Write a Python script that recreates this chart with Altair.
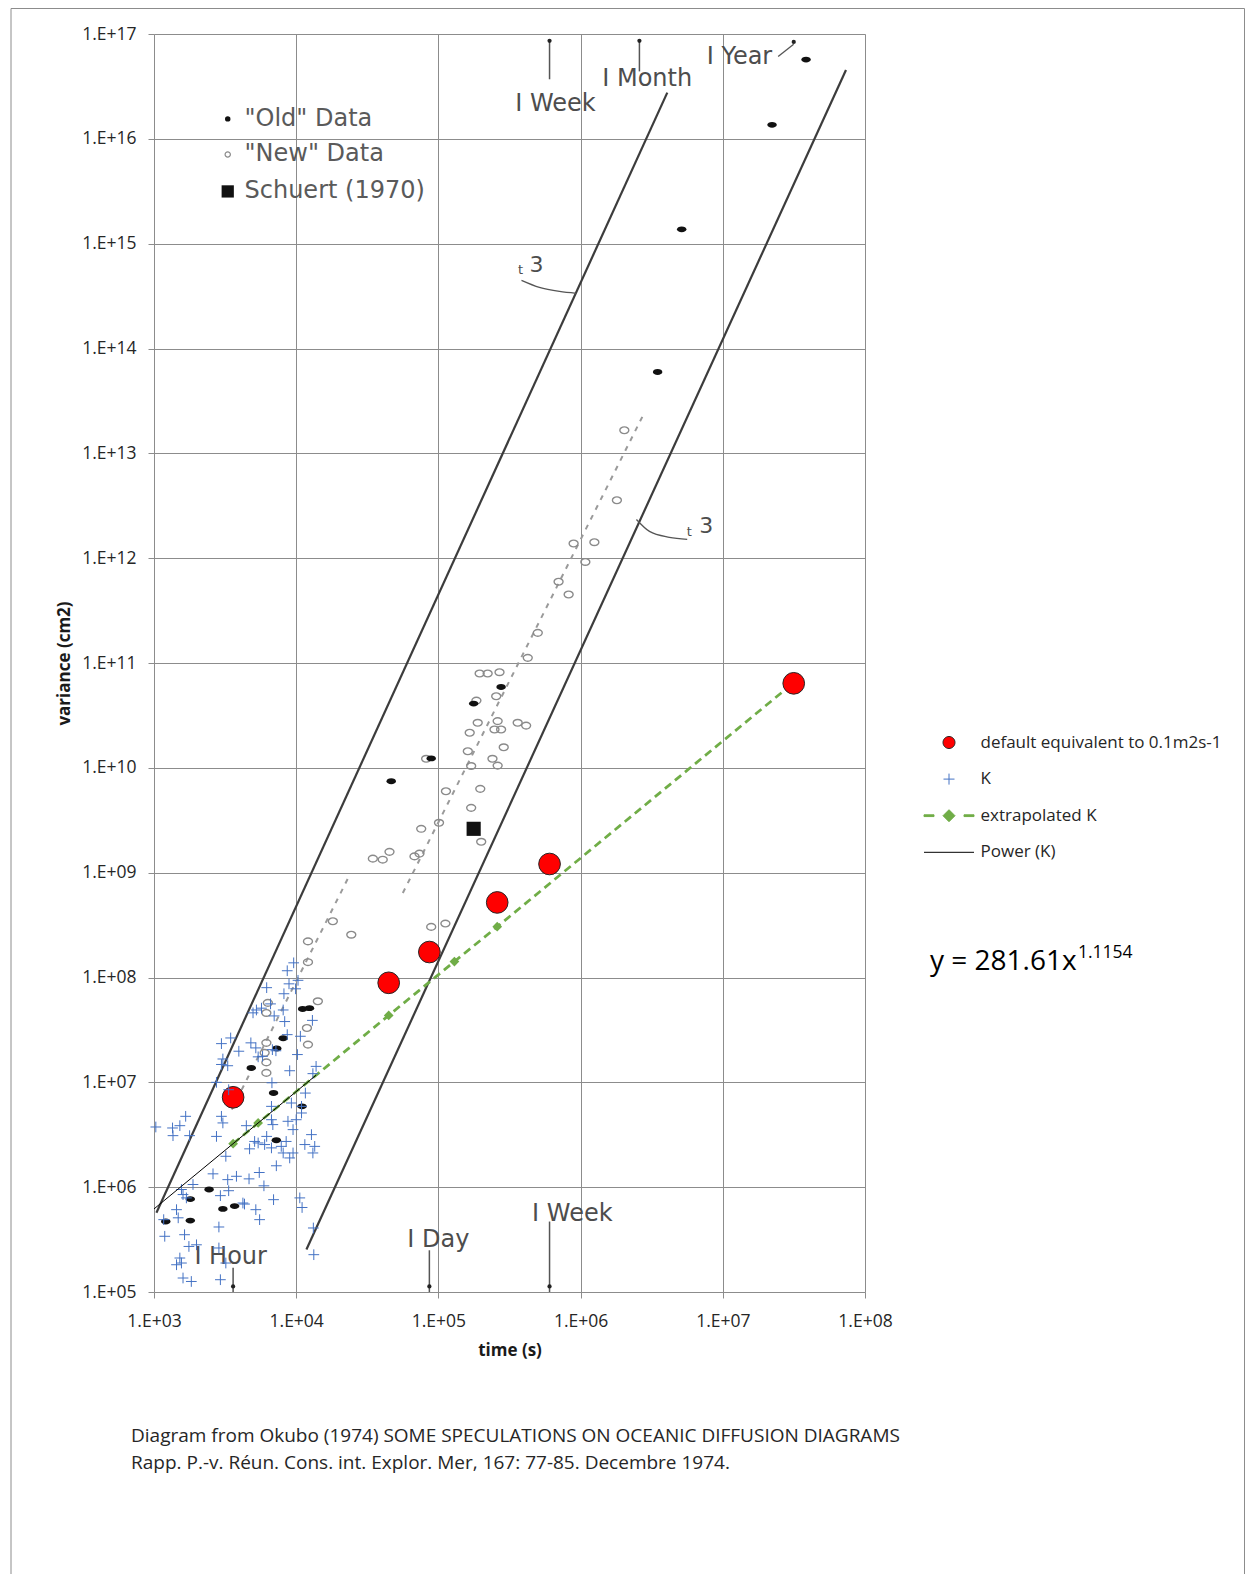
import altair as alt
import pandas as pd

# ---------------- Excel series ----------------
series_names = ["default equivalent to 0.1m2s-1", "K", "extrapolated K", "Power (K)"]
series_colors = ["#FF0000", "#4472C4", "#70AD47", "#000000"]

default_t = [3600, 44712, 86400, 259200, 604800, 31536000]
default_v = [7.2e6, 8.9e7, 1.75e8, 5.2e8, 1.21e9, 6.4e10]

k_t = [9.6e3, 8.65e3, 1.03e4, 8.9e3, 9.9e3, 6.2e3, 8.2e3, 6.6e3, 5.7e3, 5.25e3,
       4.97e3, 8.1e3, 7.0e3, 8.3e3, 1.3e4, 3.46e3, 2.98e3, 8.65e3, 1.07e4, 4.8e3,
       5.2e3, 3.95e3, 6.8e3, 7.2e3, 5.4e3, 5.8e3, 1.02e4, 3.05e3, 2.98e3, 3.3e3,
       9.0e3, 1.38e4, 1.31e4, 2.75e3, 6.75e3, 3.35e3, 1.16e4, 9.25e3, 1.09e4, 6.7e3,
       1.67e3, 2.98e3, 1.09e4, 1.03e3, 1.35e3, 1.52e3, 1.36e3, 1.78e3, 3.05e3, 4.46e3,
       6.7e3, 6.85e3, 8.75e3, 1.0e4, 9.5e3, 1.28e4, 1.15e4, 1.35e4, 1.31e4, 2.75e3,
       5.1e3, 4.7e3, 5.4e3, 6.2e3, 6.0e3, 6.7e3, 7.85e3, 8.1e3, 8.5e3, 9.0e3,
       9.5e3, 3.2e3, 7.25e3, 2.6e3, 3.8e3, 3.3e3, 4.66e3, 5.5e3, 1.88e3, 1.56e3,
       1.6e3, 1.69e3, 2.93e3, 3.35e3, 5.93e3, 4.22e3, 4.33e3, 6.93e3, 1.06e4, 1.1e4,
       5.2e3, 5.53e3, 1.44e3, 1.48e3, 1.17e3, 2.86e3, 1.32e4, 1.19e3, 1.64e3, 1.99e3,
       1.76e3, 2.86e3, 1.52e3, 1.56e3, 1.44e3, 3.2e3, 1.33e4, 1.6e3, 1.83e3, 2.93e3]
k_v = [1.38e8, 1.16e8, 9.4e7, 8.7e7, 7.8e7, 8.0e7, 7.0e7, 5.6e7, 5.1e7, 4.9e7,
       4.6e7, 4.9e7, 4.3e7, 3.8e7, 3.9e7, 2.65e7, 2.34e7, 2.85e7, 2.75e7, 2.38e7,
       2.13e7, 1.98e7, 2.05e7, 2.0e7, 1.75e7, 1.77e7, 1.84e7, 1.67e7, 1.48e7, 1.44e7,
       1.29e7, 1.42e7, 1.21e7, 1.0e7, 9.9e6, 8.5e6, 7.9e6, 6.35e6, 5.9e6, 5.9e6,
       4.74e6, 4.74e6, 5.1e6, 3.75e6, 3.67e6, 3.86e6, 3.1e6, 3.1e6, 4.1e6, 3.86e6,
       4.4e6, 3.95e6, 4.25e6, 4.4e6, 3.54e6, 3.17e6, 2.55e6, 2.45e6, 2.12e6, 3.05e6,
       2.73e6, 2.32e6, 2.64e6, 3.05e6, 2.55e6, 2.37e6, 2.45e6, 2.12e6, 2.73e6, 1.9e6,
       2.12e6, 1.97e6, 1.6e6, 1.34e6, 1.27e6, 1.18e6, 1.2e6, 1.38e6, 1.06e6, 9.5e5,
       8.5e5, 7.9e5, 8.3e5, 9.25e5, 1.03e6, 7.06e5, 6.9e5, 7.6e5, 7.9e5, 6.4e5,
       6.1e5, 4.9e5, 6.1e5, 5.1e5, 4.9e5, 4.17e5, 4.08e5, 3.4e5, 3.52e5, 2.82e5,
       2.72e5, 2.63e5, 2.11e5, 1.89e5, 1.82e5, 1.89e5, 2.27e5, 1.36e5, 1.26e5, 1.31e5]

ext_t = [3600, 5400, 44712, 129600, 259200, 31536000]
ext_v = [2.6e6, 4.1e6, 4.35e7, 1.42e8, 3.05e8, 6.5e10]

power_t = [1000, 13800]
power_v = [6.2e5, 1.17e7]

# ---------------- Okubo (1974) diagram content ----------------
old_t = [3.85e7, 2.22e7, 5.14e6, 3.48e6, 2.76e5, 1.77e5, 8.9e4, 4.66e4,
         1.11e4, 1.24e4, 8.1e3, 7.3e3, 4.83e3, 6.93e3, 1.1e4, 7.25e3,
         2.44e3, 1.8e3, 3.05e3, 3.69e3, 1.21e3, 1.8e3]
old_v = [5.7e16, 1.36e16, 1.37e15, 5.96e13, 5.9e10, 4.1e10, 1.23e10, 7.45e9,
         5.0e7, 5.1e7, 2.63e7, 2.1e7, 1.37e7, 7.9e6, 5.9e6, 2.8e6,
         9.5e5, 7.7e5, 6.2e5, 6.6e5, 4.7e5, 4.8e5]

new_t = [2.03e6, 1.8e6, 8.93e5, 1.25e6, 1.08e6, 7.0e5, 8.24e5, 5.0e5, 4.25e5, 1.95e5,
         2.22e5, 2.69e5, 2.55e5, 1.85e5, 1.89e5, 1.66e5, 2.61e5, 2.48e5, 2.76e5, 3.61e5,
         4.14e5, 1.61e5, 2.88e5, 2.4e5, 2.61e5, 1.7e5, 8.2e4, 1.97e5, 1.13e5, 1.7e5,
         1.01e5, 7.57e4, 2.0e5, 4.53e4, 4.06e4, 3.46e4, 7.36e4, 6.79e4, 1.81e4, 2.44e4,
         1.21e4, 1.21e4, 8.9e4, 1.12e5, 1.42e4, 1.19e4, 1.21e4, 6.17e3, 6.0e3, 6.17e3,
         6.17e3, 6.32e3, 6.17e3]
new_v = [1.66e13, 3.57e12, 1.38e12, 1.42e12, 9.2e11, 5.96e11, 4.5e11, 1.94e11, 1.12e11, 7.94e10,
         7.94e10, 8.17e10, 4.82e10, 4.38e10, 2.69e10, 2.16e10, 2.79e10, 2.32e10, 2.32e10, 2.69e10,
         2.53e10, 1.44e10, 1.57e10, 1.22e10, 1.05e10, 1.04e10, 1.22e10, 6.3e9, 5.98e9, 4.15e9,
         2.99e9, 2.62e9, 1.97e9, 1.58e9, 1.33e9, 1.36e9, 1.52e9, 1.43e9, 3.44e8, 2.56e8,
         2.21e8, 1.4e8, 3.04e8, 3.27e8, 5.93e7, 3.3e7, 2.29e7, 2.38e7, 1.91e7, 1.55e7,
         1.23e7, 5.73e7, 4.59e7]

schuert_t = [1.77e5]
schuert_v = [2.62e9]

# two slope-3 reference lines (t^3)
slope_id = ["left", "left", "right", "right"]
slope_t = [1.04e3, 4.07e6, 1.18e4, 7.35e7]
slope_v = [5.7e5, 2.76e16, 2.54e5, 4.53e16]

# grey dashed trend lines of the "new" data
dash_id = ["upper", "upper", "lower", "lower"]
dash_t = [5.62e4, 2.73e6, 3.52e3, 2.31e4]
dash_v = [6.4e8, 2.26e13, 5.5e6, 8.8e8]

# time markers
marker_t = [604800, 2592000, 3600, 86400, 604800]
marker_v1 = [3.7e16, 4.4e16, 1.7e5, 2.5e5, 4.7e5]
marker_v2 = [8.6e16, 8.6e16, 1.0e5, 1.0e5, 1.0e5]
head_t = [604800, 2592000, 31536000, 3600, 86400, 604800]
head_v = [8.6e16, 8.6e16, 8.4e16, 1.13e5, 1.13e5, 1.13e5]
marker_labels = ["I Week", "I Month", "I Year", "I Hour", "I Day", "I Week"]
marker_label_t = [6.65e5, 2.94e6, 1.31e7, 3.46e3, 1.0e5, 8.75e5]
marker_label_v = [2.13e16, 3.7e16, 6.0e16, 2.17e5, 3.15e5, 5.6e5]

# leader curves for the t^3 labels and the "1 Year" marker
curve_id = ["c1"] * 4 + ["c2"] * 4 + ["c3"] * 2
curve_t = [3.84e5, 5.13e5, 7.1e5, 9.33e5, 2.47e6, 3.05e6, 4.21e6, 5.62e6, 2.45e7, 3.15e7]
curve_v = [4.47e14, 3.83e14, 3.5e14, 3.36e14, 2.34e12, 1.8e12, 1.58e12, 1.51e12, 6.1e16, 8.0e16]
t3_big_t = [4.89e5, 7.66e6]
t3_big_v = [6.2e14, 2.01e12]
t3_small_t = [3.78e5, 5.82e6]
t3_small_v = [5.6e14, 1.76e12]

# the scan's own legend
scan_legend_labels = ['"Old" Data', '"New" Data', "Schuert (1970)"]
scan_legend_sym_t = [3.3e3, 3.3e3, 3.3e3]
scan_legend_v = [1.55e16, 7.1e15, 3.15e15]
scan_legend_text_t = [4.33e3, 4.33e3, 4.33e3]

x_ticks = [1e3, 1e4, 1e5, 1e6, 1e7, 1e8]
y_ticks = [1e5, 1e6, 1e7, 1e8, 1e9, 1e10, 1e11, 1e12, 1e13, 1e14, 1e15, 1e16, 1e17]

equation_main = "y = 281.61x"
equation_exp = "1.1154"
caption_lines = ["Diagram from Okubo (1974) SOME SPECULATIONS ON OCEANIC DIFFUSION DIAGRAMS",
                 "Rapp. P.-v. Réun. Cons. int. Explor. Mer, 167: 77-85. Decembre 1974."]

# ---------------- chart ----------------
W, H = 711, 1258
FONT = "Open Sans"
SCAN_FONT = "DejaVu Sans"
SCAN_GREY = "#4d4d4d"

label_expr = "'1.E+' + format(round(log(datum.value) / LN10), '02d')"
xscale = alt.Scale(type="log", domain=[1e3, 1e8], nice=False)
yscale = alt.Scale(type="log", domain=[1e5, 1e17], nice=False)
X = alt.X("t:Q", scale=xscale, title="time (s)",
          axis=alt.Axis(values=x_ticks, labelExpr=label_expr, grid=True, gridColor="#8c8c8c",
                        gridWidth=1, domain=False, tickSize=6, tickColor="#8c8c8c",
                        labelFlush=False, labelOverlap=False,
                        labelFont=FONT, labelFontSize=17.5, labelColor="#262626", labelPadding=14,
                        titleFont=FONT, titleFontSize=17, titleFontWeight="bold", titleColor="#1a1a1a",
                        titleX=W / 2, titleY=58, titleBaseline="middle", titleAlign="center"))
Y = alt.Y("v:Q", scale=yscale, title="variance (cm2)",
          axis=alt.Axis(values=y_ticks, labelExpr=label_expr, grid=True, gridColor="#8c8c8c",
                        gridWidth=1, domain=False, tickSize=6, tickColor="#8c8c8c",
                        labelFlush=False, labelOverlap=False,
                        labelFont=FONT, labelFontSize=17.5, labelColor="#262626", labelPadding=12,
                        titleFont=FONT, titleFontSize=17, titleFontWeight="bold", titleColor="#1a1a1a",
                        titleX=-90, titleY=H / 2, titleBaseline="middle", titleAlign="center",
                        titleAngle=270))

# legend symbols: paths in a [-1,1] box drawn at symbolSize 2500 (50 px)
legend_shapes = [
    "M-0.24,0A0.24,0.24,0,1,1,0.24,0A0.24,0.24,0,1,1,-0.24,0Z",
    "M-0.22,0H0.22M0,-0.22V0.22",
    "M-1,-0.035H-0.6V0.035H-1ZM0.6,-0.035H1V0.035H0.6ZM-0.24,0L0,-0.24L0.24,0L0,0.24Z",
    "M-1,0H1",
]
legend_fills = ["#FF0000", "transparent", "#70AD47", "transparent"]
legend_strokes = ["#262626", "#4472C4", "#70AD47", "#000000"]

legend = alt.Legend(
    title=None, orient="none", legendX=769.5, legendY=683, padding=0,
    labelFont=FONT, labelFontSize=17, labelColor="#262626", labelOffset=6, labelLimit=0,
    symbolSize=2500, symbolStrokeWidth=1, symbolOpacity=1, rowPadding=2.6)

df_default = pd.DataFrame({"t": default_t, "v": default_v})
df_k = pd.DataFrame({"t": k_t, "v": k_v})
df_ext = pd.DataFrame({"t": ext_t, "v": ext_v})
df_pow = pd.DataFrame({"t": power_t, "v": power_v})
df_legend = pd.DataFrame({
    "series": series_names,
    "t": [default_t[0], k_t[0], ext_t[0], power_t[0]],
    "v": [default_v[0], k_v[0], ext_v[0], power_v[0]],
})

one = pd.DataFrame({"a": [0]})

frame = alt.Chart(one).mark_rect(fillOpacity=0, stroke="#8c8c8c", strokeWidth=1).encode(
    x=alt.value(-143), x2=alt.value(1090.5), y=alt.value(-25.5), y2=alt.value(1700))

ELLIPSE = "M-1,0A1,0.62,0,1,1,1,0A1,0.62,0,1,1,-1,0Z"
OPEN_ELL = "M-1,0A1,0.75,0,1,1,1,0A1,0.75,0,1,1,-1,0Z"

slope_lines = alt.Chart(pd.DataFrame({"id": slope_id, "t": slope_t, "v": slope_v})).mark_line(
    color="#3c3c3c", strokeWidth=2.2).encode(x=X, y=Y, detail="id:N")
dash_lines = alt.Chart(pd.DataFrame({"id": dash_id, "t": dash_t, "v": dash_v})).mark_line(
    color="#9a9a9a", strokeWidth=2, strokeDash=[5, 6]).encode(x=X, y=Y, detail="id:N")
curves = alt.Chart(pd.DataFrame({"id": curve_id, "t": curve_t, "v": curve_v})).mark_line(
    color="#555555", strokeWidth=1.3, interpolate="monotone").encode(x=X, y=Y, detail="id:N")
new_pts = alt.Chart(pd.DataFrame({"t": new_t, "v": new_v})).mark_point(
    shape=OPEN_ELL, size=80, filled=False, color="#8a8a8a", strokeWidth=1.4, opacity=1).encode(x=X, y=Y)
old_pts = alt.Chart(pd.DataFrame({"t": old_t, "v": old_v})).mark_point(
    shape=ELLIPSE, size=90, filled=True, color="#111111", opacity=1).encode(x=X, y=Y)
schuert = alt.Chart(pd.DataFrame({"t": schuert_t, "v": schuert_v})).mark_point(
    shape="square", size=200, filled=True, color="#111111", opacity=1).encode(x=X, y=Y)

markers = alt.Chart(pd.DataFrame({"t": marker_t, "v": marker_v1, "v2": marker_v2})).mark_rule(
    color="#555555", strokeWidth=1.5).encode(x=X, y=Y, y2="v2:Q")
heads = alt.Chart(pd.DataFrame({"t": head_t, "v": head_v})).mark_point(
    shape="circle", size=18, filled=True, color="#222222", opacity=1).encode(x=X, y=Y)
marker_text = alt.Chart(pd.DataFrame({"t": marker_label_t, "v": marker_label_v, "txt": marker_labels})).mark_text(
    font=SCAN_FONT, fontSize=24, color=SCAN_GREY, align="center", baseline="middle").encode(x=X, y=Y, text="txt:N")
t3_big = alt.Chart(pd.DataFrame({"t": t3_big_t, "v": t3_big_v})).mark_text(
    text="3", font=SCAN_FONT, fontSize=22, color=SCAN_GREY, baseline="middle").encode(x=X, y=Y)
t3_small = alt.Chart(pd.DataFrame({"t": t3_small_t, "v": t3_small_v})).mark_text(
    text="t", font=SCAN_FONT, fontSize=13, color=SCAN_GREY, baseline="middle").encode(x=X, y=Y)

sl_df = pd.DataFrame({"t": scan_legend_sym_t, "v": scan_legend_v, "k": ["old", "new", "sq"]})
sl_old = alt.Chart(sl_df[sl_df.k == "old"]).mark_point(
    shape="circle", size=30, filled=True, color="#111111", opacity=1).encode(x=X, y=Y)
sl_new = alt.Chart(sl_df[sl_df.k == "new"]).mark_point(
    shape="circle", size=28, filled=False, color="#8a8a8a", strokeWidth=1.2, opacity=1).encode(x=X, y=Y)
sl_sq = alt.Chart(sl_df[sl_df.k == "sq"]).mark_point(
    shape="square", size=150, filled=True, color="#111111", opacity=1).encode(x=X, y=Y)
sl_text = alt.Chart(pd.DataFrame({"t": scan_legend_text_t, "v": scan_legend_v, "txt": scan_legend_labels})).mark_text(
    font=SCAN_FONT, fontSize=24, color="#5a5a5a", align="left", baseline="middle").encode(x=X, y=Y, text="txt:N")

ext_line = alt.Chart(df_ext).mark_line(color=series_colors[2], strokeWidth=2.75,
                                       strokeDash=[8, 5]).encode(x=X, y=Y)
ext_pts = alt.Chart(df_ext).mark_point(shape="diamond", size=95, filled=True,
                                       color=series_colors[2], opacity=1).encode(x=X, y=Y)
red = alt.Chart(df_default).mark_point(
    shape="circle", size=470, filled=True, fill=series_colors[0], stroke="#262626",
    strokeWidth=1, opacity=1).encode(x=X, y=Y)
crosses = alt.Chart(df_k).mark_point(
    shape="M-1,0H1M0,-1V1", size=115, filled=False, color=series_colors[1],
    strokeWidth=1, opacity=1).encode(x=X, y=Y)
power = alt.Chart(df_pow).mark_line(color=series_colors[3], strokeWidth=1).encode(x=X, y=Y)

# invisible carrier of the legend (size 0), one row per series
legend_carrier = alt.Chart(df_legend).mark_point(size=0, filled=True, strokeWidth=1).encode(
    x=X, y=Y,
    shape=alt.Shape("series:N", scale=alt.Scale(domain=series_names, range=legend_shapes), legend=legend),
    fill=alt.Fill("series:N", scale=alt.Scale(domain=series_names, range=legend_fills), legend=legend),
    stroke=alt.Stroke("series:N", scale=alt.Scale(domain=series_names, range=legend_strokes), legend=legend),
)

eq_main = alt.Chart(one).mark_text(text=equation_main, font=FONT, fontSize=28, color="#000000",
                                   align="left", baseline="alphabetic").encode(
    x=alt.value(776), y=alt.value(936))
eq_exp = alt.Chart(one).mark_text(text=equation_exp, font=FONT, fontSize=17.5, color="#000000",
                                  align="left", baseline="alphabetic").encode(
    x=alt.value(924), y=alt.value(924))
cap1 = alt.Chart(one).mark_text(text=caption_lines[0], font=FONT, fontSize=19, color="#262626",
                                align="left", baseline="alphabetic").encode(
    x=alt.value(-23), y=alt.value(1407.5))
cap2 = alt.Chart(one).mark_text(text=caption_lines[1], font=FONT, fontSize=19, color="#262626",
                                align="left", baseline="alphabetic").encode(
    x=alt.value(-23), y=alt.value(1434.5))

chart = alt.layer(
    frame, slope_lines, dash_lines, curves, new_pts, old_pts, schuert, markers, heads,
    marker_text, t3_big, t3_small, sl_old, sl_new, sl_sq, sl_text,
    ext_line, ext_pts, red, crosses, power, legend_carrier,
    eq_main, eq_exp, cap1, cap2,
).properties(
    width=W, height=H,
    padding={"left": 146, "top": 26, "right": 380, "bottom": 282},
    autosize=alt.AutoSizeParams(type="none"),
).configure_view(
    fill="#fcfcf6", stroke="#1a1a1a", strokeWidth=2
).configure(background="#ffffff")

chart.save("out.html", embed_options={"renderer": "svg", "actions": False})
